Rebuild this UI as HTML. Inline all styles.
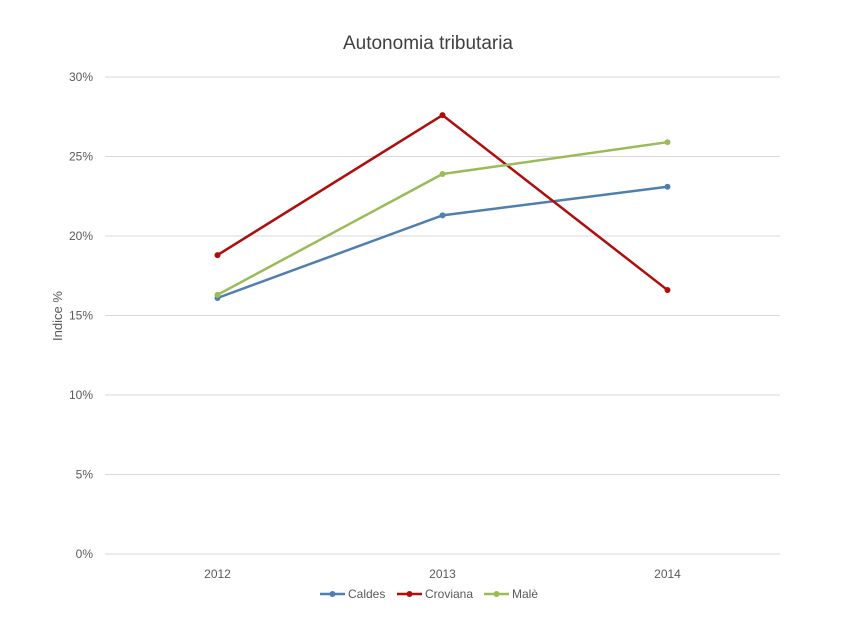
<!DOCTYPE html>
<html><head><meta charset="utf-8"><style>
body{margin:0;background:#fff;font-family:"Liberation Sans",sans-serif;}
svg text{font-family:"Liberation Sans",sans-serif;}
</style></head><body>
<svg id="chart" width="850" height="638">
<text x="428" y="49" text-anchor="middle" font-size="19" fill="#404040">Autonomia tributaria</text>
<text transform="translate(62,316) rotate(-90)" text-anchor="middle" font-size="13" fill="#595959">Indice %</text>
<g id="grid"></g><g id="series"></g><g id="legend"></g>
</svg>
<script>
const categories=["2012","2013","2014"];
const yTicks=[0,5,10,15,20,25,30];
const seriesNames=["Caldes","Croviana","Malè"];
const caldes=[16.1,21.3,23.1];
const croviana=[18.8,27.6,16.6];
const male=[16.3,23.9,25.9];
const colors=["#4e7fb0","#b00c0c","#9bbb59"];
const NS="http://www.w3.org/2000/svg";
const x0=105,x1=780,yBottom=554,yTop=77;
const xs=i=>x0+(x1-x0)*(i+0.5)/categories.length;
const ys=v=>yBottom-(v-0)/(30-0)*(yBottom-yTop);
function mk(t,a,p){const e=document.createElementNS(NS,t);for(const k in a)e.setAttribute(k,a[k]);p.appendChild(e);return e;}
const grid=document.getElementById('grid');
yTicks.forEach(t=>{
 const l=mk('line',{x1:x0,x2:x1,y1:ys(t),y2:ys(t),stroke:'#d9d9d9','stroke-width':1},grid);
 
 
 const tx=mk('text',{x:93,y:ys(t)+4,'text-anchor':'end','font-size':12,fill:'#595959'},grid);
 tx.textContent=t+'%';
 
 
});
categories.forEach((c,i)=>{
 const tx=mk('text',{x:xs(i),y:578,'text-anchor':'middle','font-size':12,fill:'#595959'},grid);
 tx.textContent=c;
 
 
});
const data=[caldes,croviana,male];
const sg=document.getElementById('series');
data.forEach((arr,si)=>{
 const p=mk('polyline',{points:arr.map((v,i)=>xs(i)+','+ys(v)).join(' '),fill:'none',stroke:colors[si],'stroke-width':2.5},sg);
 
 
 arr.forEach((v,i)=>{
  const c=mk('circle',{cx:xs(i),cy:ys(v),r:3,fill:colors[si]},sg);
  
  
 });
});
const lg=document.getElementById('legend');
const lx=[320,397,484];
seriesNames.forEach((n,i)=>{
 const g=mk('g',{},lg);
 
 
 mk('line',{x1:lx[i],x2:lx[i]+25,y1:594,y2:594,stroke:colors[i],'stroke-width':2.5},g);
 mk('circle',{cx:lx[i]+12.5,cy:594,r:3,fill:colors[i]},g);
 const t=mk('text',{x:lx[i]+28,y:598,'font-size':12,fill:'#595959'},g);
 t.textContent=n;
});
</script>
</body></html>
